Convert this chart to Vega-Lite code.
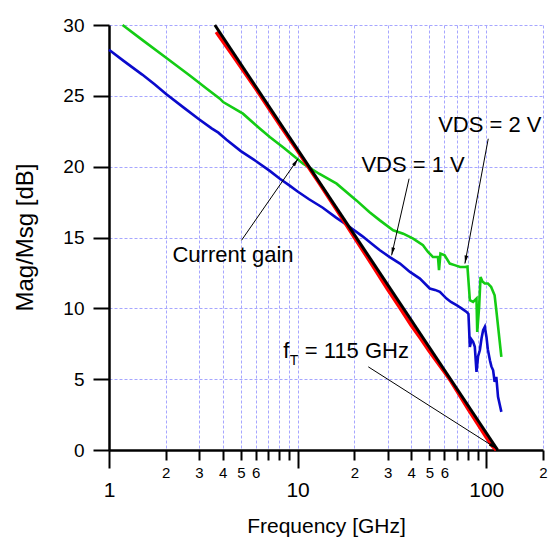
{
  "$schema": "https://vega.github.io/schema/vega-lite/v6.json",
  "width": 434,
  "height": 425,
  "autosize": "none",
  "padding": {"left": 109, "top": 25, "right": 9, "bottom": 90},
  "background": "white",
  "config": {
    "view": {"stroke": null},
    "font": "Liberation Sans",
    "axis": {
      "labelFont": "Liberation Sans",
      "titleFont": "Liberation Sans",
      "labelColor": "black",
      "titleColor": "black",
      "titleFontWeight": "normal",
      "domainColor": "black",
      "tickColor": "black",
      "gridColor": "#a6a6ff",
      "gridDash": [3, 2],
      "gridWidth": 1,
      "labelFlush": false,
      "labelOverlap": false,
      "labelBound": false
    }
  },
  "datasets": {
    "curves": [
      {"series": "VDS1", "f": 1.0, "db": 28.25},
      {"series": "VDS1", "f": 1.2, "db": 27.45},
      {"series": "VDS1", "f": 1.5, "db": 26.5},
      {"series": "VDS1", "f": 1.75, "db": 25.8},
      {"series": "VDS1", "f": 2.0, "db": 25.15},
      {"series": "VDS1", "f": 2.5, "db": 24.15},
      {"series": "VDS1", "f": 3.0, "db": 23.35},
      {"series": "VDS1", "f": 3.5, "db": 22.7},
      {"series": "VDS1", "f": 3.8, "db": 22.4},
      {"series": "VDS1", "f": 4.2, "db": 21.9},
      {"series": "VDS1", "f": 5.0, "db": 21.1},
      {"series": "VDS1", "f": 6.0, "db": 20.4},
      {"series": "VDS1", "f": 7.12, "db": 19.7},
      {"series": "VDS1", "f": 8.05, "db": 19.15},
      {"series": "VDS1", "f": 9.0, "db": 18.7},
      {"series": "VDS1", "f": 10.0, "db": 18.25},
      {"series": "VDS1", "f": 11.5, "db": 17.7},
      {"series": "VDS1", "f": 13.6, "db": 17.1},
      {"series": "VDS1", "f": 16.0, "db": 16.4},
      {"series": "VDS1", "f": 18.9, "db": 15.74},
      {"series": "VDS1", "f": 22.0, "db": 15.1},
      {"series": "VDS1", "f": 25.0, "db": 14.5},
      {"series": "VDS1", "f": 27.3, "db": 14.1},
      {"series": "VDS1", "f": 30.8, "db": 13.62},
      {"series": "VDS1", "f": 34.9, "db": 13.16},
      {"series": "VDS1", "f": 39.4, "db": 12.57},
      {"series": "VDS1", "f": 44.5, "db": 12.1},
      {"series": "VDS1", "f": 50.2, "db": 11.4},
      {"series": "VDS1", "f": 53.5, "db": 11.3},
      {"series": "VDS1", "f": 56.8, "db": 11.16},
      {"series": "VDS1", "f": 61.6, "db": 10.69},
      {"series": "VDS1", "f": 65.0, "db": 10.45},
      {"series": "VDS1", "f": 69.6, "db": 10.22},
      {"series": "VDS1", "f": 74.0, "db": 10.0},
      {"series": "VDS1", "f": 78.7, "db": 9.75},
      {"series": "VDS1", "f": 80.5, "db": 9.6},
      {"series": "VDS1", "f": 81.9, "db": 7.28},
      {"series": "VDS1", "f": 83.5, "db": 7.8},
      {"series": "VDS1", "f": 85.2, "db": 7.63},
      {"series": "VDS1", "f": 87.0, "db": 7.28},
      {"series": "VDS1", "f": 88.8, "db": 5.52},
      {"series": "VDS1", "f": 90.5, "db": 6.6},
      {"series": "VDS1", "f": 92.5, "db": 7.04},
      {"series": "VDS1", "f": 94.5, "db": 7.9},
      {"series": "VDS1", "f": 96.3, "db": 8.45},
      {"series": "VDS1", "f": 98.3, "db": 8.69},
      {"series": "VDS1", "f": 100.3, "db": 7.98},
      {"series": "VDS1", "f": 102.0, "db": 7.1},
      {"series": "VDS1", "f": 104.6, "db": 6.34},
      {"series": "VDS1", "f": 106.5, "db": 5.9},
      {"series": "VDS1", "f": 108.8, "db": 5.63},
      {"series": "VDS1", "f": 110.8, "db": 4.81},
      {"series": "VDS1", "f": 113.1, "db": 5.16},
      {"series": "VDS1", "f": 115.5, "db": 3.75},
      {"series": "VDS1", "f": 118.0, "db": 3.2},
      {"series": "VDS1", "f": 120.3, "db": 2.69},

      {"series": "VDS2", "f": 1.18, "db": 30.0},
      {"series": "VDS2", "f": 1.5, "db": 28.95},
      {"series": "VDS2", "f": 2.0, "db": 27.7},
      {"series": "VDS2", "f": 2.68, "db": 26.44},
      {"series": "VDS2", "f": 3.3, "db": 25.5},
      {"series": "VDS2", "f": 3.87, "db": 24.8},
      {"series": "VDS2", "f": 4.03, "db": 24.56},
      {"series": "VDS2", "f": 5.13, "db": 23.74},
      {"series": "VDS2", "f": 6.32, "db": 22.68},
      {"series": "VDS2", "f": 7.12, "db": 22.09},
      {"series": "VDS2", "f": 8.5, "db": 21.3},
      {"series": "VDS2", "f": 10.7, "db": 20.21},
      {"series": "VDS2", "f": 13.0, "db": 19.5},
      {"series": "VDS2", "f": 16.1, "db": 18.8},
      {"series": "VDS2", "f": 20.5, "db": 17.62},
      {"series": "VDS2", "f": 24.0, "db": 16.8},
      {"series": "VDS2", "f": 27.3, "db": 16.21},
      {"series": "VDS2", "f": 32.1, "db": 15.51},
      {"series": "VDS2", "f": 36.3, "db": 15.27},
      {"series": "VDS2", "f": 41.0, "db": 14.92},
      {"series": "VDS2", "f": 46.2, "db": 14.45},
      {"series": "VDS2", "f": 49.0, "db": 14.0},
      {"series": "VDS2", "f": 52.2, "db": 13.62},
      {"series": "VDS2", "f": 55.5, "db": 13.62},
      {"series": "VDS2", "f": 56.2, "db": 12.69},
      {"series": "VDS2", "f": 57.2, "db": 13.86},
      {"series": "VDS2", "f": 60.2, "db": 13.74},
      {"series": "VDS2", "f": 64.1, "db": 13.16},
      {"series": "VDS2", "f": 68.0, "db": 13.05},
      {"series": "VDS2", "f": 72.7, "db": 12.92},
      {"series": "VDS2", "f": 77.4, "db": 12.92},
      {"series": "VDS2", "f": 79.5, "db": 12.95},
      {"series": "VDS2", "f": 81.9, "db": 10.57},
      {"series": "VDS2", "f": 85.2, "db": 10.45},
      {"series": "VDS2", "f": 88.8, "db": 10.69},
      {"series": "VDS2", "f": 89.6, "db": 8.34},
      {"series": "VDS2", "f": 91.7, "db": 10.1},
      {"series": "VDS2", "f": 93.3, "db": 12.21},
      {"series": "VDS2", "f": 95.5, "db": 11.9},
      {"series": "VDS2", "f": 98.3, "db": 11.75},
      {"series": "VDS2", "f": 102.1, "db": 11.75},
      {"series": "VDS2", "f": 106.2, "db": 11.51},
      {"series": "VDS2", "f": 110.8, "db": 10.92},
      {"series": "VDS2", "f": 113.1, "db": 9.87},
      {"series": "VDS2", "f": 120.3, "db": 6.58},

      {"series": "H21", "f": 3.7, "db": 29.5},
      {"series": "H21", "f": 4.5, "db": 27.9},
      {"series": "H21", "f": 6.0, "db": 25.5},
      {"series": "H21", "f": 8.0, "db": 23.0},
      {"series": "H21", "f": 10.0, "db": 21.1},
      {"series": "H21", "f": 13.0, "db": 18.85},
      {"series": "H21", "f": 16.0, "db": 17.0},
      {"series": "H21", "f": 20.0, "db": 15.0},
      {"series": "H21", "f": 25.0, "db": 13.0},
      {"series": "H21", "f": 30.0, "db": 11.35},
      {"series": "H21", "f": 35.0, "db": 10.0},
      {"series": "H21", "f": 40.0, "db": 8.8},
      {"series": "H21", "f": 45.0, "db": 7.85},
      {"series": "H21", "f": 50.0, "db": 6.95},
      {"series": "H21", "f": 55.0, "db": 6.2},
      {"series": "H21", "f": 60.0, "db": 5.5},
      {"series": "H21", "f": 65.0, "db": 4.85},
      {"series": "H21", "f": 70.0, "db": 4.15},
      {"series": "H21", "f": 80.0, "db": 2.9},
      {"series": "H21", "f": 90.0, "db": 1.85},
      {"series": "H21", "f": 100.0, "db": 0.9},
      {"series": "H21", "f": 108.0, "db": 0.25},
      {"series": "H21", "f": 113.0, "db": 0.0},

      {"series": "fit", "f": 3.64, "db": 30.0},
      {"series": "fit", "f": 115.0, "db": 0.0}
    ],
    "labels": [
      {"id": "cg", "f": 2.17, "db": 13.27, "label": "Current gain"},
      {"id": "v1", "f": 21.8, "db": 19.62, "label": "VDS = 1 V"},
      {"id": "v2", "f": 55.6, "db": 22.44, "label": "VDS = 2 V"},
      {"id": "ft", "f": 8.38, "db": 6.46, "label": "f"},
      {"id": "ft2", "f": 10.92, "db": 6.46, "label": "= 115 GHz"}
    ],
    "subs": [
      {"f": 9.09, "db": 5.99, "label": "T"}
    ],
    "arrows": [
      {"id": "cg", "f": 5.04, "db": 14.8, "f2": 10.06, "db2": 20.56},
      {"id": "v1", "f": 39.0, "db": 19.15, "f2": 31.5, "db2": 13.74},
      {"id": "v2", "f": 102.5, "db": 21.97, "f2": 77.1, "db2": 13.16},
      {"id": "ft", "f": 23.7, "db": 5.87, "f2": 113.6, "db2": 0.1}
    ]
  },
  "encoding": {
    "x": {
      "field": "f", "type": "quantitative",
      "scale": {"type": "log", "domain": [1, 200], "nice": false},
      "axis": {
        "values": [1, 2, 3, 4, 5, 6, 7, 8, 9, 10, 20, 30, 40, 50, 60, 70, 80, 90, 100, 200],
        "title": "Frequency [GHz]",
        "titleFontSize": 21,
        "titleY": 65,
        "labelExpr": "(datum.value == 1 || datum.value == 10 || datum.value == 100) ? format(datum.value, 'd') : ((datum.value == 7 || datum.value == 8 || datum.value == 9 || datum.value == 70 || datum.value == 80 || datum.value == 90) ? '' : substring(format(datum.value, 'd'), 0, 1))",
        "labelFontSize": {"condition": {"test": "datum.value == 1 || datum.value == 10 || datum.value == 100", "value": 21}, "value": 15},
        "labelPadding": {"condition": {"test": "datum.value == 1 || datum.value == 10 || datum.value == 100", "value": 11}, "value": 5},
        "tickSize": {"condition": {"test": "datum.value == 1 || datum.value == 10 || datum.value == 100", "value": 18}, "value": 10},
        "labelBaseline": "top",
        "labelAngle": 0,
        "tickWidth": 2,
        "domainWidth": 2.5,
        "grid": true
      }
    },
    "y": {
      "field": "db", "type": "quantitative",
      "scale": {"domain": [0, 30], "nice": false},
      "axis": {
        "values": [0, 5, 10, 15, 20, 25, 30],
        "title": "Mag/Msg [dB]",
        "titleFontSize": 24,
        "titleX": -72,
        "titleY": 212,
        "tickSize": 16,
        "tickWidth": 2,
        "labelFontSize": 19,
        "labelPadding": 9,
        "domainWidth": 2.5,
        "grid": true
      }
    }
  },
  "layer": [
    {
      "data": {"name": "curves"},
      "transform": [{"filter": "datum.series == 'VDS1'"}],
      "mark": {"type": "line", "color": "#0a0acc", "strokeWidth": 2.6}
    },
    {
      "data": {"name": "curves"},
      "transform": [{"filter": "datum.series == 'VDS2'"}],
      "mark": {"type": "line", "color": "#14cc14", "strokeWidth": 2.6}
    },
    {
      "data": {"name": "curves"},
      "transform": [{"filter": "datum.series == 'H21'"}],
      "mark": {"type": "line", "color": "#ff0000", "strokeWidth": 3.5}
    },
    {
      "data": {"name": "curves"},
      "transform": [{"filter": "datum.series == 'fit'"}],
      "mark": {"type": "line", "color": "#000000", "strokeWidth": 3}
    },
    {
      "data": {"name": "arrows"},
      "mark": {"type": "rule", "color": "black", "strokeWidth": 1},
      "encoding": {
        "x2": {"field": "f2"},
        "y2": {"field": "db2"}
      }
    },
    {
      "data": {"name": "arrows"},
      "transform": [{"filter": "datum.id == 'cg'"}],
      "mark": {"type": "point", "shape": "M0,0L-0.45,2L0.45,2Z", "filled": true, "color": "black", "size": 64, "opacity": 1, "angle": 34.7, "xOffset": 0},
      "encoding": {
        "x": {"field": "f2", "type": "quantitative"},
        "y": {"field": "db2", "type": "quantitative"}
      }
    },
    {
      "data": {"name": "arrows"},
      "transform": [{"filter": "datum.id == 'v1'"}],
      "mark": {"type": "point", "shape": "M0,0L-0.45,2L0.45,2Z", "filled": true, "color": "black", "size": 64, "opacity": 1, "angle": 192.9},
      "encoding": {
        "x": {"field": "f2", "type": "quantitative"},
        "y": {"field": "db2", "type": "quantitative"}
      }
    },
    {
      "data": {"name": "arrows"},
      "transform": [{"filter": "datum.id == 'v2'"}],
      "mark": {"type": "point", "shape": "M0,0L-0.45,2L0.45,2Z", "filled": true, "color": "black", "size": 64, "opacity": 1, "angle": 190.6},
      "encoding": {
        "x": {"field": "f2", "type": "quantitative"},
        "y": {"field": "db2", "type": "quantitative"}
      }
    },
    {
      "data": {"name": "arrows"},
      "transform": [{"filter": "datum.id == 'ft'"}],
      "mark": {"type": "point", "shape": "M0,0L-0.45,2L0.45,2Z", "filled": true, "color": "black", "size": 64, "opacity": 1, "angle": 122.4},
      "encoding": {
        "x": {"field": "f2", "type": "quantitative"},
        "y": {"field": "db2", "type": "quantitative"}
      }
    },
    {
      "data": {"name": "labels"},
      "mark": {"type": "text", "align": "left", "baseline": "alphabetic", "fontSize": 22, "font": "Liberation Sans", "fill": "black"},
      "encoding": {
        "text": {"field": "label"}
      }
    },
    {
      "data": {"name": "subs"},
      "mark": {"type": "text", "align": "left", "baseline": "alphabetic", "fontSize": 14, "font": "Liberation Sans", "fill": "black"},
      "encoding": {
        "text": {"field": "label"}
      }
    }
  ]
}
